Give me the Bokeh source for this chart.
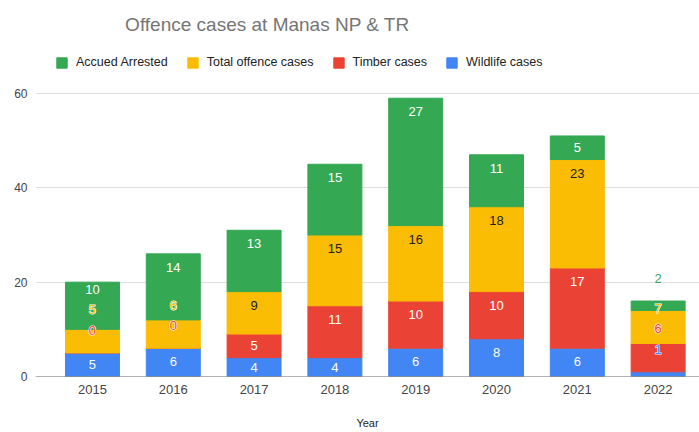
from bokeh.plotting import figure
from bokeh.models import (ColumnDataSource, Range1d, FixedTicker, Legend, LegendItem,
                          Label, Span)
from bokeh.core.properties import value
from bokeh.embed import file_html
from bokeh.resources import INLINE

# ---------------- data ----------------
years = ["2015", "2016", "2017", "2018", "2019", "2020", "2021", "2022"]
wildlife_cases = [5, 6, 4, 4, 6, 8, 6, 1]
timber_cases = [0, 0, 5, 11, 10, 10, 17, 6]
total_offence_cases = [5, 6, 9, 15, 16, 18, 23, 7]
accused_arrested = [10, 14, 13, 15, 27, 11, 5, 2]
y_ticks = [0, 20, 40, 60]

series_keys = ["wildlife", "timber", "total", "accused"]
series_names = ["Wildlife cases", "Timber cases", "Total offence cases", "Accued Arrested"]
colors = ["#4285f4", "#ea4335", "#fbbc04", "#34a853"]
inside_text = ["#ffffff", "#ffffff", "#202124", "#ffffff"]

FONT = "Liberation Sans"

xs = list(range(len(years)))
src = ColumnDataSource(dict(x=xs, wildlife=wildlife_cases, timber=timber_cases,
                            total=total_offence_cases, accused=accused_arrested))

# frame spans the full canvas height above the x axis so the title and legend
# (drawn in the frame) are not clipped; grid lines only at the y ticks
p = figure(width=699, height=432, x_range=Range1d(-0.705, 7.512), y_range=Range1d(0, 79.72),
           output_backend="svg", toolbar_location=None,
           min_border_left=35, min_border_right=0, min_border_top=0, min_border_bottom=56)
p.outline_line_color = None
p.background_fill_color = "white"
p.border_fill_color = "white"

renderers = p.vbar_stack(series_keys, x="x", width=0.668, color=colors, source=src)

# axes
p.xaxis.ticker = FixedTicker(ticks=xs)
p.xaxis.major_label_overrides = {i: y for i, y in enumerate(years)}
p.yaxis.ticker = FixedTicker(ticks=y_ticks)
for ax in (p.xaxis[0], p.yaxis[0]):
    ax.axis_line_color = None
    ax.major_tick_line_color = None
    ax.minor_tick_line_color = None
    ax.major_tick_out = 0
    ax.major_tick_in = 0
    ax.major_label_text_font = FONT
    ax.major_label_text_color = "#444444"
p.xaxis.major_label_text_font_size = "13px"
p.xaxis.major_label_standoff = 8
p.yaxis.major_label_text_font_size = "12px"
p.yaxis.major_label_standoff = 8
p.xaxis.axis_label = "Year"
p.xaxis.axis_label_text_font = FONT
p.xaxis.axis_label_text_font_size = "11px"
p.xaxis.axis_label_text_font_style = "normal"
p.xaxis.axis_label_text_color = "#222222"
p.xaxis.axis_label_standoff = 20

p.xgrid.visible = False
p.ygrid.grid_line_color = "#dddddd"
p.ygrid.grid_line_width = 1
p.add_layout(Span(location=0, dimension="width", line_color="#666666", line_width=1.2))

# data labels (inside-end placement, pushed up when they collide)
stack = [wildlife_cases, timber_cases, total_offence_cases, accused_arrested]
norm = dict(x=[], y=[], t=[], c=[])
disp = dict(x=[], y=[], t=[], c=[])
for i in xs:
    base = 0
    prev = None
    for s, vals in enumerate(stack):
        v = vals[i]
        bottom, top = base, base + v
        base = top
        if v >= 3:
            ly = max(top - 2.9, (bottom + top) / 2)
        else:
            ly = top + 4.8
        if prev is not None:
            ly = max(ly, prev + 4.3)
        prev = ly
        if bottom <= ly <= top:
            d = norm
            d["c"].append(inside_text[s])
        else:
            d = disp
            d["c"].append(colors[s])
        d["x"].append(i)
        d["y"].append(ly)
        d["t"].append(str(v))

p.text(x="x", y="y", text="t", text_color="c", source=ColumnDataSource(norm),
       text_font=value(FONT), text_font_size="13px", text_align="center",
       text_baseline="middle")
disp_src = ColumnDataSource(disp)
# white halo, then the coloured label on top
p.text(x="x", y="y", text="t", text_color="white", source=disp_src,
       text_font=value(FONT), text_font_size="13px", text_align="center",
       text_baseline="middle", text_outline_color="white")
p.text(x="x", y="y", text="t", text_color="c", source=disp_src,
       text_font=value(FONT), text_font_size="13px", text_align="center",
       text_baseline="middle")

# legend
items = [LegendItem(label=series_names[k], renderers=[renderers[k]]) for k in [3, 2, 1, 0]]
legend = Legend(items=items, orientation="horizontal", location=(20, 307),
                glyph_width=13, glyph_height=13, label_standoff=8, spacing=18,
                padding=0, margin=0, border_line_color=None, background_fill_alpha=0,
                label_text_font=FONT, label_text_font_size="12.5px",
                label_text_color="#222222", label_height=13)
p.add_layout(legend, "center")

# title
p.add_layout(Label(x=232, y=352, x_units="screen", y_units="screen",
                   text="Offence cases at Manas NP & TR", text_font=FONT,
                   text_font_size="19px", text_color="#757575",
                   text_align="center", text_baseline="middle"))

open("out.html", "w").write(file_html(p, INLINE))
